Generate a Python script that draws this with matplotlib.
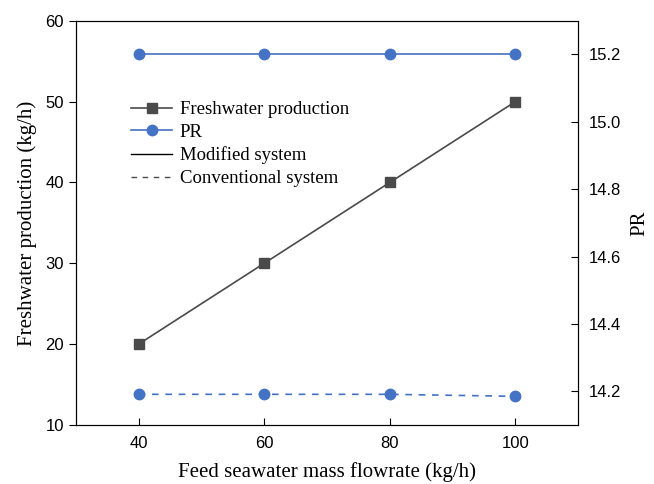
import matplotlib.pyplot as plt
from matplotlib.lines import Line2D

flowrate = [40, 60, 80, 100]
freshwater = [20, 30, 40, 50]
pr_modified = [15.2, 15.2, 15.2, 15.2]
pr_conventional = [14.191, 14.191, 14.191, 14.185]

grey = '#4a4a4a'
blue = '#4472c4'
serif = 'Liberation Serif'
sans = 'Liberation Sans'

fig = plt.figure(figsize=(6.54, 4.84), dpi=100)
ax = fig.add_axes([0.116, 0.122, 0.768, 0.835])
ax2 = ax.twinx()

ax.plot(flowrate, freshwater, color=grey, lw=1.2, marker='s', ms=7)
ax2.plot(flowrate, pr_modified, color=blue, lw=1.2, marker='o', ms=7.5)
ax2.plot(flowrate, pr_conventional, color=blue, lw=1.2, ls=(0, (4, 4)), marker='o', ms=7.5)

ax.set_xlim(30, 110)
ax.set_ylim(10, 60)
ax2.set_ylim(14.1, 15.3)
ax.set_xticks(flowrate)
ax.set_yticks([10, 20, 30, 40, 50, 60])
ax2.set_yticks([14.2, 14.4, 14.6, 14.8, 15.0, 15.2])
ax2.set_yticklabels(['14.2', '14.4', '14.6', '14.8', '15.0', '15.2'])

ax.tick_params(axis='x', direction='in', length=5, labelsize=12, pad=8)
ax.tick_params(axis='y', direction='out', length=5, labelsize=12)
ax2.tick_params(axis='y', direction='in', length=5, labelsize=12, pad=8)
for t in ax.get_xticklabels() + ax.get_yticklabels() + ax2.get_yticklabels():
    t.set_fontfamily(sans)

ax.set_xlabel('Feed seawater mass flowrate (kg/h)', fontsize=15, family=serif, labelpad=8)
ax.set_ylabel('Freshwater production (kg/h)', fontsize=15, family=serif, labelpad=6)
ax2.set_ylabel('PR', fontsize=15, family=serif, labelpad=6)

handles = [
    Line2D([], [], color=grey, lw=1.2, marker='s', ms=7),
    Line2D([], [], color=blue, lw=1.2, marker='o', ms=7.5),
    Line2D([], [], color='black', lw=1.0),
    Line2D([], [], color=grey, lw=1.0, ls=(0, (4, 4))),
]
labels = ['Freshwater production', 'PR', 'Modified system', 'Conventional system']
ax2.legend(handles, labels, loc='upper left', bbox_to_anchor=(0.095, 0.82), frameon=False,
           prop={'family': serif, 'size': 13.5}, handlelength=2.2, labelspacing=0.3,
           handletextpad=0.4, borderaxespad=0)

plt.savefig('out.png', dpi=100)
